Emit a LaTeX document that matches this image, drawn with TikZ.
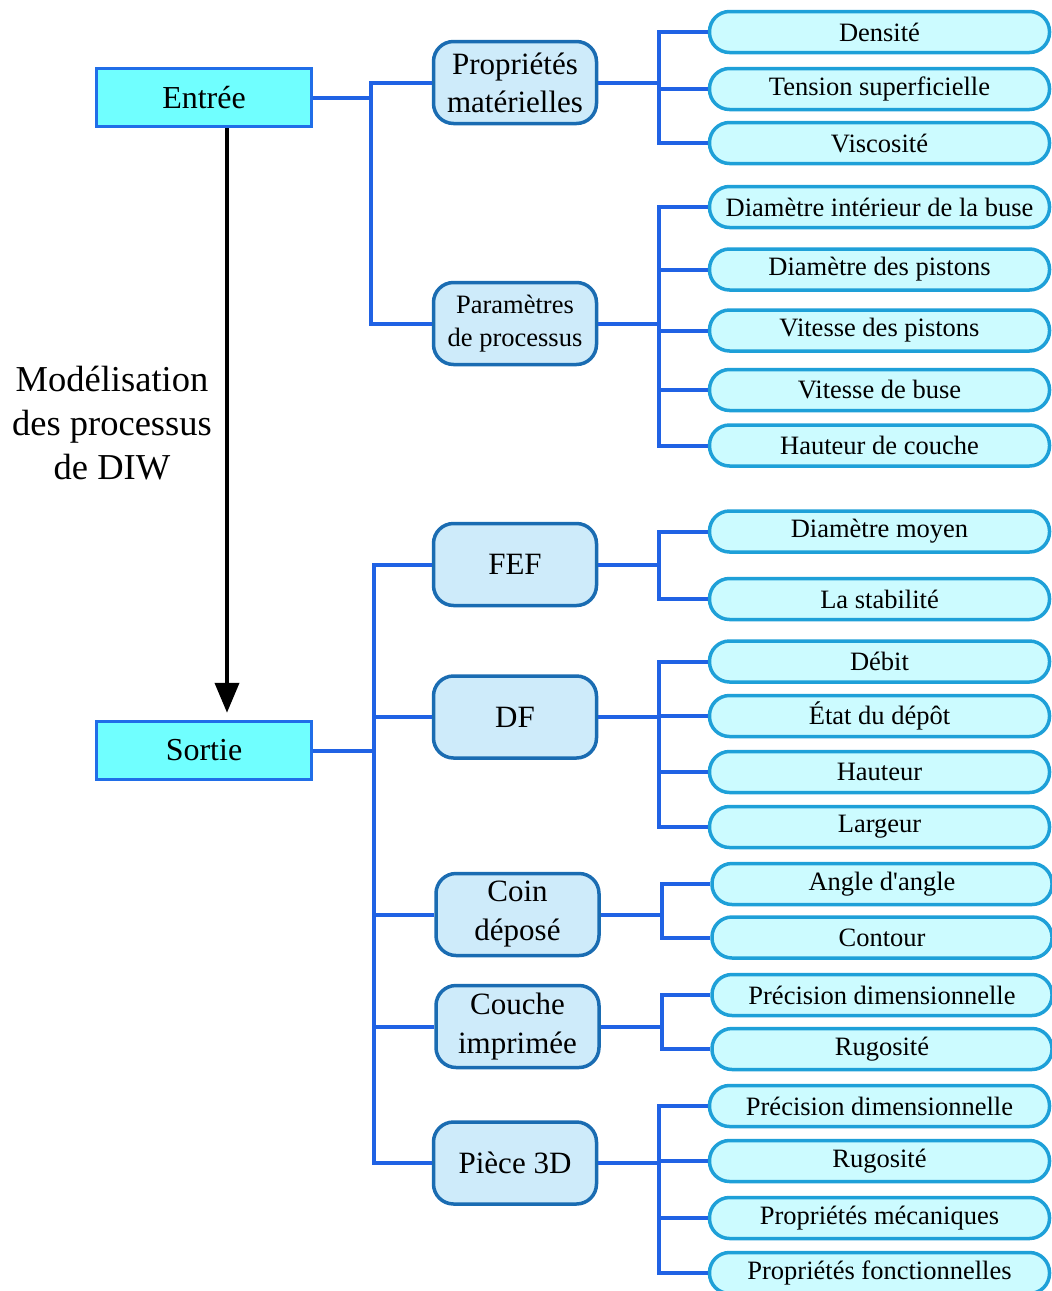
\documentclass[tikz,border=0pt]{standalone}
\usepackage{fontspec}
\setmainfont{Liberation Serif}
\usetikzlibrary{arrows.meta}
\definecolor{conn}{RGB}{32,98,228}
\definecolor{topfill}{RGB}{112,255,255}
\definecolor{topdraw}{RGB}{32,110,232}
\definecolor{midfill}{RGB}{206,235,250}
\definecolor{middraw}{RGB}{26,108,178}
\definecolor{leaffill}{RGB}{204,251,255}
\definecolor{leafdraw}{RGB}{30,160,216}
\tikzset{
  topbox/.style={draw=topdraw, fill=topfill, line width=3.5pt, minimum width=215pt, minimum height=58pt, inner sep=0pt, font=\fontsize{32}{37}\selectfont},
  midbox/.style={draw=middraw, fill=midfill, line width=3.5pt, rounded corners=20pt, minimum width=163pt, minimum height=82pt, inner sep=0pt, align=center, font=\fontsize{31}{38}\selectfont},
  leafbox/.style={draw=leafdraw, fill=leaffill, line width=3.5pt, rounded corners=20pt, minimum width=340pt, minimum height=41pt, inner sep=0pt, font=\fontsize{26.5}{30}\selectfont},
  wire/.style={draw=conn, line width=4pt},
  mainarrow/.style={draw=black, line width=4pt, -{Triangle[length=30pt,width=24pt]}}
}
\begin{document}
\begin{tikzpicture}[x=1pt,y=-1pt]
\useasboundingbox (0,0) rectangle (1052,1291);
% top-level boxes
\node[topbox] (E) at (204,97.5) {Entrée};
\node[topbox] (S) at (204,750.5) {Sortie};
\node[align=center, font=\fontsize{36.5}{44}\selectfont] (lab) at (112,423) {Modélisation\\des processus\\de DIW};
\draw[mainarrow, shorten >=7pt] ([xshift=23pt]E.south) -- ([xshift=23pt]S.north);
% middle boxes
\node[midbox] (P1) at (515,82.5) {Propriétés\\matérielles};
\node[midbox, font=\fontsize{26.5}{33}\selectfont] (P2) at (515,323.5) {Paramètres\\de processus};
\node[midbox] (O1) at (515,564.5) {FEF};
\node[midbox] (O2) at (515,717) {DF};
\node[midbox, font=\fontsize{31}{39}\selectfont] (O3) at (517.5,914.5) {Coin\\déposé};
\node[midbox, font=\fontsize{31}{39}\selectfont] (O4) at (517.5,1026.5) {Couche\\imprimée};
\node[midbox] (O5) at (515,1163) {Pièce 3D};
% leaves
\node[leafbox] (L1) at (879.5,32) {Densité};
\node[leafbox] (L2) at (879.5,89) {Tension superficielle};
\node[leafbox] (L3) at (879.5,143) {Viscosité};
\node[leafbox] (L4) at (879.5,207) {Diamètre intérieur de la buse};
\node[leafbox] (L5) at (879.5,269.5) {Diamètre des pistons};
\node[leafbox] (L6) at (879.5,330.5) {Vitesse des pistons};
\node[leafbox] (L7) at (879.5,390) {Vitesse de buse};
\node[leafbox] (L8) at (879.5,445.5) {Hauteur de couche};
\node[leafbox] (L9) at (879.5,531.5) {Diamètre moyen};
\node[leafbox] (L10) at (879.5,599) {La stabilité};
\node[leafbox] (L11) at (879.5,661.5) {Débit};
\node[leafbox] (L12) at (879.5,716) {État du dépôt};
\node[leafbox] (L13) at (879.5,772) {Hauteur};
\node[leafbox] (L14) at (879.5,827) {Largeur};
\node[leafbox] (L15) at (882,884) {Angle d\textquotesingle angle};
\node[leafbox] (L16) at (882,937.5) {Contour};
\node[leafbox] (L17) at (882,995) {Précision dimensionnelle};
\node[leafbox] (L18) at (882,1049) {Rugosité};
\node[leafbox] (L19) at (879.5,1106) {Précision dimensionnelle};
\node[leafbox] (L20) at (879.5,1161) {Rugosité};
\node[leafbox] (L21) at (879.5,1218) {Propriétés mécaniques};
\node[leafbox] (L22) at (879.5,1273) {Propriétés fonctionnelles};
% bus coordinates
\coordinate (bE) at (371,0);
\coordinate (bS) at (374,0);
\coordinate (bA) at (659,0);
\coordinate (bB) at (662,0);
% Entrée connections
\draw[wire] (E.east) -- (E.east -| bE);
\draw[wire] (P1.west) -- (P1.west -| bE) -- (P2.west -| bE) -- (P2.west);
% Sortie connections
\draw[wire] (S.east) -- (S.east -| bS);
\draw[wire] (O1.west) -- (O1.west -| bS) -- (O5.west -| bS) -- (O5.west);
\draw[wire] (O2.west) -- (O2.west -| bS);
\draw[wire] (O3.west) -- (O3.west -| bS);
\draw[wire] (O4.west) -- (O4.west -| bS);
% Propriétés matérielles
\draw[wire] (P1.east) -- (P1.east -| bA);
\draw[wire] (L1.west) -- (L1.west -| bA) -- (L3.west -| bA) -- (L3.west);
\draw[wire] (L2.west) -- (L2.west -| bA);
% Paramètres
\draw[wire] (P2.east) -- (P2.east -| bA);
\draw[wire] (L4.west) -- (L4.west -| bA) -- (L8.west -| bA) -- (L8.west);
\foreach \n in {L5,L6,L7} \draw[wire] (\n.west) -- (\n.west -| bA);
% FEF
\draw[wire] (O1.east) -- (O1.east -| bA);
\draw[wire] (L9.west) -- (L9.west -| bA) -- (L10.west -| bA) -- (L10.west);
% DF
\draw[wire] (O2.east) -- (O2.east -| bA);
\draw[wire] (L11.west) -- (L11.west -| bA) -- (L14.west -| bA) -- (L14.west);
\foreach \n in {L12,L13} \draw[wire] (\n.west) -- (\n.west -| bA);
% Coin déposé
\draw[wire] (O3.east) -- (O3.east -| bB);
\draw[wire] (L15.west) -- (L15.west -| bB) -- (L16.west -| bB) -- (L16.west);
% Couche imprimée
\draw[wire] (O4.east) -- (O4.east -| bB);
\draw[wire] (L17.west) -- (L17.west -| bB) -- (L18.west -| bB) -- (L18.west);
% Pièce 3D
\draw[wire] (O5.east) -- (O5.east -| bA);
\draw[wire] (L19.west) -- (L19.west -| bA) -- (L22.west -| bA) -- (L22.west);
\foreach \n in {L20,L21} \draw[wire] (\n.west) -- (\n.west -| bA);
\end{tikzpicture}
\end{document}
